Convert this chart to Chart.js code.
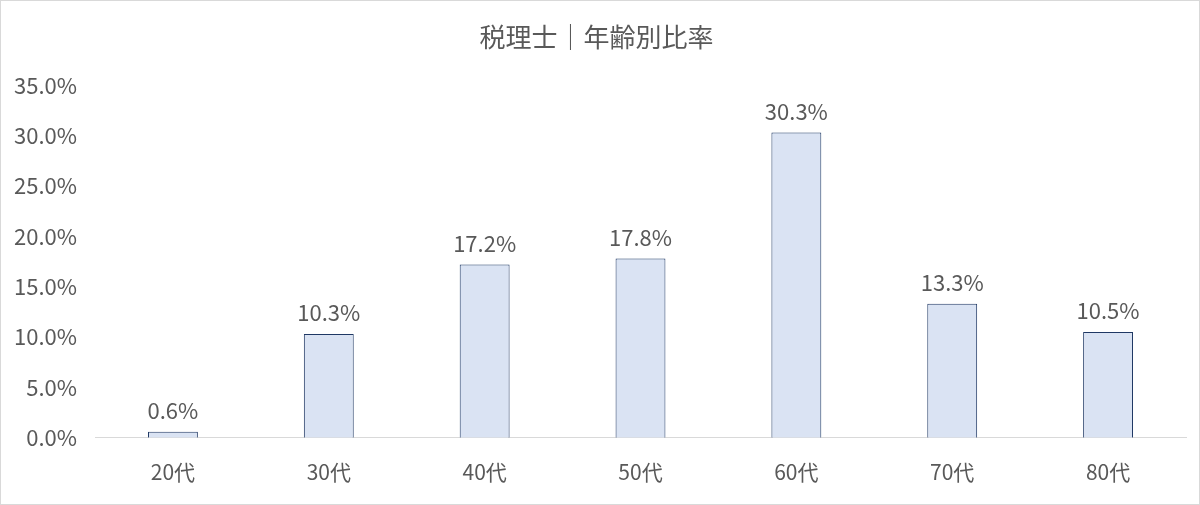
<!DOCTYPE html>
<html>
<head>
<meta charset="utf-8">
<script src="https://cdn.jsdelivr.net/npm/chart.js@4/dist/chart.umd.min.js"></script>
<style>
  html, body { margin: 0; padding: 0; background: #fff; }
  #wrap { width: 1198px; height: 503px; border: 1px solid #d9d9d9; }
</style>
</head>
<body>
<div id="wrap"><canvas id="chart" width="1198" height="503"></canvas></div>
<script>
// Age bands and share of tax accountants (%)
const ageLabels = ['20代', '30代', '40代', '50代', '60代', '70代', '80代'];
const shareValues = [0.6, 10.3, 17.2, 17.8, 30.3, 13.3, 10.5];
const yTicks = [0, 5, 10, 15, 20, 25, 30, 35];

const fontFamily = "'Noto Sans CJK JP', 'Noto Sans', sans-serif";
const textGrey = '#595959';

// Draws the value label above each bar
const valueLabels = {
    id: 'valueLabels',
    afterDatasetsDraw(chart) {
        const ctx = chart.ctx;
        const meta = chart.getDatasetMeta(0);
        ctx.save();
        ctx.font = `22px ${fontFamily}`;
        ctx.fillStyle = textGrey;
        ctx.textAlign = 'center';
        ctx.textBaseline = 'bottom';
        meta.data.forEach((bar, i) => {
            ctx.fillText(shareValues[i].toFixed(1) + '%', bar.x, bar.y - 10);
        });
        ctx.restore();
    }
};

new Chart(document.getElementById('chart'), {
    type: 'bar',
    data: {
        labels: ageLabels,
        datasets: [{
            data: shareValues,
            backgroundColor: '#dae3f3',
            borderColor: '#1f3864',
            borderWidth: 1,
            categoryPercentage: 1,
            barPercentage: 0.32
        }]
    },
    options: {
        responsive: false,
        animation: false,
        layout: { padding: { top: 0, right: 13, bottom: 5, left: 6 } },
        plugins: {
            legend: { display: false },
            tooltip: { enabled: false },
            title: {
                display: true,
                text: '税理士｜年齢別比率',
                color: textGrey,
                font: { family: fontFamily, size: 26, weight: 'normal' },
                padding: { top: 21, bottom: 32 }
            }
        },
        scales: {
            y: {
                min: 0,
                max: 35,
                afterBuildTicks(axis) { axis.ticks = yTicks.map(v => ({ value: v })); },
                afterFit(axis) { axis.width = 88; },
                grid: { display: false },
                border: { display: false },
                ticks: {
                    color: textGrey,
                    font: { family: fontFamily, size: 22 },
                    padding: 10,
                    callback: v => v.toFixed(1) + '%'
                }
            },
            x: {
                grid: { display: false },
                border: { color: '#d9d9d9' },
                ticks: {
                    color: textGrey,
                    font: { family: fontFamily, size: 21 },
                    padding: 14
                }
            }
        }
    },
    plugins: [valueLabels]
});
</script>
</body>
</html>
